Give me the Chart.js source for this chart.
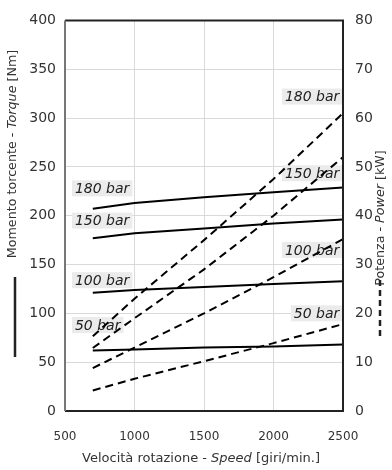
<!DOCTYPE html>
<html><head><meta charset="utf-8">
<script src="https://cdn.jsdelivr.net/npm/chart.js@4/dist/chart.umd.min.js"></script>
<style>html,body{margin:0;padding:0;background:#fff}#w{width:392px;height:470px}</style>
</head><body><div id="w"><canvas id="c"></canvas></div>
<script>
const speed = [700, 1000, 1500, 2000, 2500];
const pressures = ['50 bar', '100 bar', '150 bar', '180 bar'];
const torque50 = [62, 63, 65, 66, 68];
const torque100 = [121, 124, 127, 130, 133];
const torque150 = [177, 182, 187, 192, 196];
const torque180 = [207, 213, 219, 224, 229];
const power50 = [4.2, 6.6, 10.2, 13.9, 17.8];
const power100 = [8.8, 13, 20, 27.4, 35.2];
const power150 = [12.9, 19, 29, 40, 52];
const power180 = [15.3, 23, 35, 47.5, 61];
const xTicks = [500, 1000, 1500, 2000, 2500];
const torqueLabelAt = [88, 134, 195, 228];
const powerLabelAt = [20, 33, 48.7, 64.4];

const torques = [torque50, torque100, torque150, torque180];
const powers = [power50, power100, power150, power180];
const pts = arr => arr.map((v, i) => ({x: speed[i], y: v}));
const datasets = [];
torques.forEach((t, i) => datasets.push({label: 'T ' + pressures[i], data: pts(t), yAxisID: 'y',
  borderColor: '#000', borderWidth: 2, pointRadius: 0, fill: false, tension: 0}));
powers.forEach((p, i) => datasets.push({label: 'P ' + pressures[i], data: pts(p), yAxisID: 'y2',
  borderColor: '#000', borderWidth: 2, borderDash: [8, 5], pointRadius: 0, fill: false, tension: 0}));

const FONT = '"DejaVu Sans", Verdana, sans-serif';

function drawSegs(ctx, segs, size) {
  let total = 0;
  segs.forEach(s => { ctx.font = (s[1] ? 'italic ' : '') + size + 'px ' + FONT; total += ctx.measureText(s[0]).width; });
  let x = -total / 2;
  segs.forEach(s => { ctx.font = (s[1] ? 'italic ' : '') + size + 'px ' + FONT; ctx.fillText(s[0], x, 0); x += ctx.measureText(s[0]).width; });
}

const deco = {
  id: 'deco',
  beforeDatasetsDraw(chart) {
    const ctx = chart.ctx, sx = chart.scales.x, sy = chart.scales.y, sy2 = chart.scales.y2;
    ctx.save();
    ctx.font = 'italic 14px ' + FONT;
    ctx.textBaseline = 'middle';
    const box = (txt, x, y, alignRight) => {
      const w = ctx.measureText(txt).width + 6;
      const bx = alignRight ? x - w : x;
      ctx.fillStyle = '#ebebeb';
      ctx.fillRect(bx, y - 8, w, 16);
      ctx.fillStyle = '#222';
      ctx.textAlign = 'left';
      ctx.fillText(txt, bx + 3, y + 1);
    };
    pressures.forEach((p, i) => {
      box(p, sx.getPixelForValue(550), sy.getPixelForValue(torqueLabelAt[i]), false);
      box(p, sx.getPixelForValue(2495), sy2.getPixelForValue(powerLabelAt[i]), true);
    });
    ctx.restore();
  },
  afterDatasetsDraw(chart) {
    const ctx = chart.ctx, a = chart.chartArea;
    ctx.save();
    ctx.lineWidth = 2;
    ctx.strokeStyle = '#222';
    ctx.beginPath(); ctx.moveTo(a.left, a.top); ctx.lineTo(a.right, a.top); ctx.lineTo(a.right, a.bottom); ctx.lineTo(a.left, a.bottom); ctx.stroke();
    ctx.strokeStyle = '#777';
    ctx.beginPath(); ctx.moveTo(a.left, a.top); ctx.lineTo(a.left, a.bottom); ctx.stroke();
    ctx.fillStyle = '#333';
    ctx.textAlign = 'left';
    ctx.textBaseline = 'middle';
    ctx.save(); ctx.translate(13, 154); ctx.rotate(-Math.PI / 2);
    drawSegs(ctx, [['Momento torcente - ', false], ['Torque', true], [' [Nm]', false]], 12.7);
    ctx.restore();
    ctx.save(); ctx.translate(381, 218); ctx.rotate(-Math.PI / 2);
    drawSegs(ctx, [['Potenza - ', false], ['Power', true], [' [kW]', false]], 12.7);
    ctx.restore();
    ctx.save(); ctx.translate(201, 459);
    drawSegs(ctx, [['Velocità rotazione - ', false], ['Speed', true], [' [giri/min.]', false]], 13);
    ctx.restore();
    ctx.strokeStyle = '#222';
    ctx.lineWidth = 2.5;
    ctx.setLineDash([]);
    ctx.beginPath(); ctx.moveTo(15, 277); ctx.lineTo(15, 357); ctx.stroke();
    ctx.setLineDash([6, 4]);
    ctx.beginPath(); ctx.moveTo(380, 280); ctx.lineTo(380, 336); ctx.stroke();
    ctx.restore();
  }
};

new Chart(document.getElementById('c'), {
  type: 'line',
  data: {datasets},
  options: {
    responsive: true, maintainAspectRatio: false, animation: false,
    layout: {padding: {top: 15, left: 0, right: 0, bottom: 0}},
    plugins: {legend: {display: false}, tooltip: {enabled: false}},
    scales: {
      x: {type: 'linear', min: 500, max: 2500,
        afterBuildTicks: s => { s.ticks = xTicks.map(v => ({value: v})); },
        afterFit: s => { s.height = 59; },
        grid: {color: '#d9d9d9', drawTicks: false}, border: {display: false},
        ticks: {color: '#333', font: {family: FONT, size: 12}, padding: 19, maxRotation: 0, callback: v => String(v)}},
      y: {position: 'left', min: 0, max: 400,
        afterFit: s => { s.width = 65; },
        grid: {color: '#d9d9d9', drawTicks: false}, border: {display: false},
        ticks: {stepSize: 50, color: '#333', font: {family: FONT, size: 14}, padding: 9, callback: v => String(v)}},
      y2: {position: 'right', min: 0, max: 80,
        afterFit: s => { s.width = 49; },
        grid: {display: false, drawTicks: false}, border: {display: false},
        ticks: {stepSize: 10, color: '#333', font: {family: FONT, size: 14}, padding: 12, callback: v => String(v)}}
    }
  },
  plugins: [deco]
});
</script></body></html>
